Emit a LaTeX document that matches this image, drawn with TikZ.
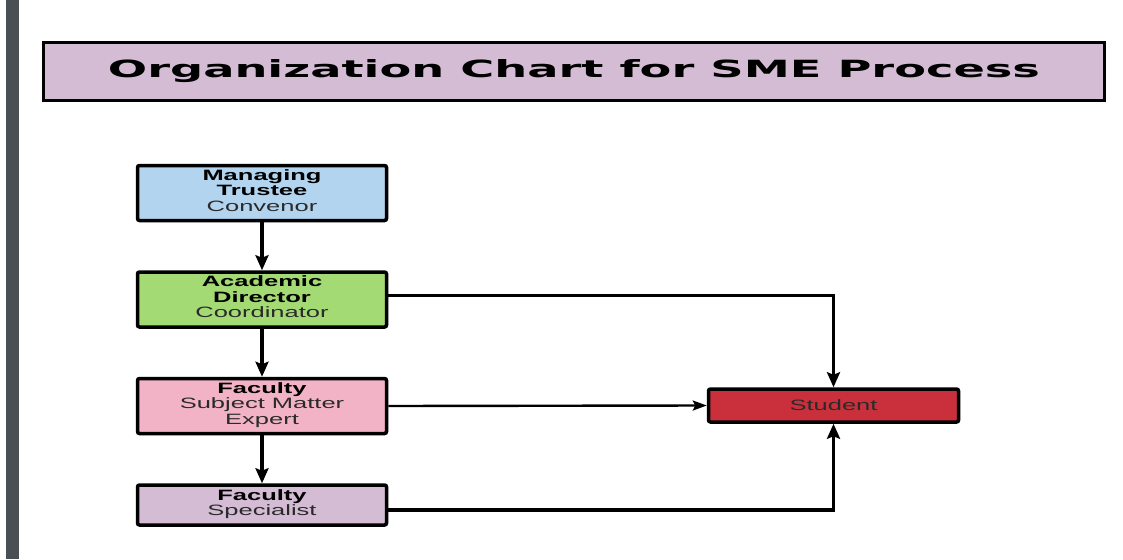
\documentclass[tikz,border=0pt]{standalone}
\usepackage{fontspec}
\usetikzlibrary{arrows.meta,shadows}
\setmainfont{Liberation Sans}
\newfontfamily\boxfont[FakeStretch=1.7]{Liberation Sans}
\newfontfamily\titlefont{DejaVu Sans}
\definecolor{barc}{HTML}{4A4F54}
\definecolor{titlec}{HTML}{D4BCD4}
\definecolor{bluec}{HTML}{B2D4EE}
\definecolor{greenc}{HTML}{A3DA74}
\definecolor{pinkc}{HTML}{F3B3C6}
\definecolor{lavc}{HTML}{D4BCD4}
\definecolor{redc}{HTML}{C9303C}
\definecolor{txtc}{HTML}{2A2A2A}
\newcommand{\boxtext}[2][-5pt]{\parbox{240pt}{\centering #2\rule[#1]{0pt}{0pt}}}
\tikzset{
  orgbox/.style={draw=black, line width=3.5pt, rounded corners=2pt, minimum width=249pt,
    minimum height=55pt, align=center, inner sep=0pt, text=txtc,
    font=\boxfont\fontsize{15}{15.5}\selectfont,
    drop shadow={shadow xshift=1.5pt, shadow yshift=-1.5pt, opacity=0.25}},
  conn/.style={line width=3.5pt, -{Stealth[length=15pt,width=13pt,inset=2.5pt]}},
  thinconn/.style={line width=2.4pt, -{Stealth[length=14pt,width=10pt,inset=2.5pt]}}
}
\begin{document}
\begin{tikzpicture}[x=1pt,y=-1pt]
\useasboundingbox (0,0) rectangle (1123,559);
\fill[white] (0,0) rectangle (1123,559);
\fill[barc] (6,0) rectangle (19,559);
\node[draw=black, line width=3.5pt, fill=titlec, minimum width=1061pt, minimum height=58pt, inner sep=0pt] (title) at (574,71.5)
  {\resizebox{932pt}{18pt}{\titlefont\bfseries Organization Chart for SME Process}};
\node[orgbox, fill=bluec] (mt) at (262,193) {\boxtext{\textbf{\color{black}Managing}\\\textbf{\color{black}Trustee}\\Convenor}};
\node[orgbox, fill=greenc] (ad) at (262,299.5) {\boxtext{\textbf{\color{black}Academic}\\\textbf{\color{black}Director}\\Coordinator}};
\node[orgbox, fill=pinkc] (sme) at (262,406) {\boxtext{\textbf{\color{black}Faculty}\\Subject Matter\\Expert}};
\node[orgbox, fill=lavc, minimum height=40pt] (sp) at (262,505) {\boxtext[-5pt]{\textbf{\color{black}Faculty}\\Specialist}};
\node[orgbox, fill=redc, minimum height=33pt, minimum width=250pt] (st) at (833.5,405.5) {Student};
\draw[conn] (mt) -- (ad);
\draw[conn] (ad) -- (sme);
\draw[conn] (sme) -- (sp);
\draw[conn] ([yshift=4pt]ad.east) -| (st.north);
\draw[thinconn] (sme.east) -- (st.west);
\draw[conn] ([yshift=-5pt]sp.east) -| (st.south);
\end{tikzpicture}
\end{document}
